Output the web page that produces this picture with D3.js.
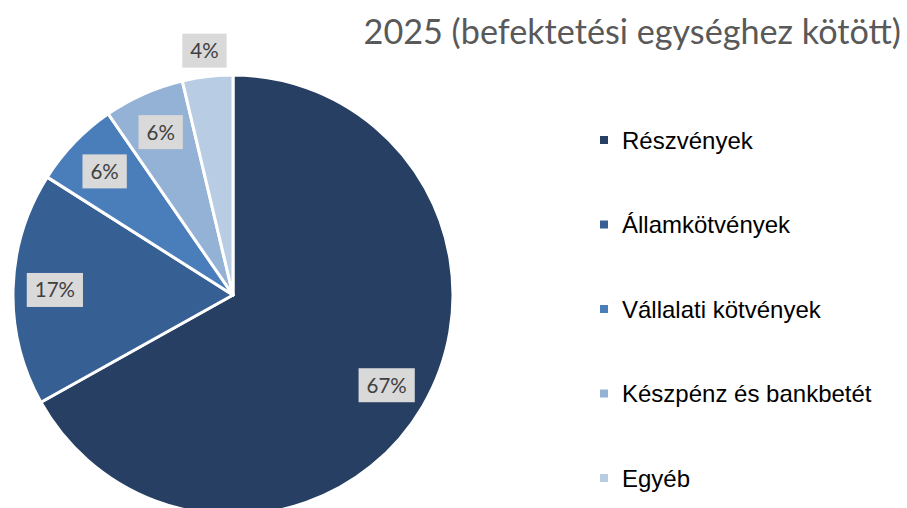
<!DOCTYPE html>
<html>
<head>
<meta charset="utf-8">
<script src="https://cdn.jsdelivr.net/npm/d3@7"></script>
<style>
  body { margin: 0; background: #fff; }
  svg { display: block; }
</style>
</head>
<body>
<div id="chart"></div>
<script>
// chart data
var title = "2025 (befektetési egységhez kötött)";
var categories = ["Részvények", "Államkötvények", "Vállalati kötvények", "Készpénz és bankbetét", "Egyéb"];
var values = [66.9, 17.1, 6.4, 5.9, 3.7];
var labels = ["67%", "17%", "6%", "6%", "4%"];
var colors = ["#263f62", "#365f93", "#4a7ebb", "#94b1d6", "#b8cce4"];

var svgWidth = 907;
var svgHeight = 508;

var svg = d3.select("#chart")
  .append("svg")
  .attr("width", svgWidth)
  .attr("height", svgHeight);

var cx = 233, cy = 295, radius = 220;

var data = categories.map(function(c, i) {
  return { name: c, value: values[i], label: labels[i], color: colors[i] };
});

var pie = d3.pie()
  .sort(null)
  .value(d => d.value);

var arc = d3.arc()
  .innerRadius(0)
  .outerRadius(radius);

var labelArc = d3.arc()
  .innerRadius(radius * 0.81)
  .outerRadius(radius * 0.81);

var outerLabelArc = d3.arc()
  .innerRadius(radius + 26)
  .outerRadius(radius + 26);

var pieGroup = svg.append("g")
  .attr("transform", `translate(${cx}, ${cy})`);

var arcs = pie(data);

pieGroup.selectAll("path")
  .data(arcs)
  .enter()
  .append("path")
  .attr("d", arc)
  .attr("fill", d => d.data.color)
  .attr("stroke", "#fff")
  .attr("stroke-width", 3)
  .attr("stroke-linejoin", "round");

// data labels; small slices get pushed outside like excel's best fit
var labelGroups = pieGroup.selectAll(".dlabel")
  .data(arcs)
  .enter()
  .append("g")
  .attr("class", "dlabel")
  .attr("transform", function(d) {
    var small = (d.endAngle - d.startAngle) < 0.3;
    var p = small ? outerLabelArc.centroid(d) : labelArc.centroid(d);
    return `translate(${p[0]}, ${p[1]})`;
  });

labelGroups.append("rect")
  .attr("fill", "#d9d9d9");

labelGroups.append("text")
  .attr("text-anchor", "middle")
  .attr("dy", "0.36em")
  .attr("font-family", "Lato, 'Open Sans', sans-serif")
  .attr("font-size", 20.5)
  .attr("fill", "#404040")
  .text(d => d.data.label);

labelGroups.each(function() {
  var g = d3.select(this);
  var w = g.select("text").node().getComputedTextLength();
  g.select("rect")
    .attr("x", -w / 2 - 8)
    .attr("y", -17)
    .attr("width", w + 16)
    .attr("height", 34);
});

// title
svg.append("text")
  .attr("x", 901)
  .attr("y", 44)
  .attr("text-anchor", "end")
  .attr("font-family", "Lato, 'Open Sans', sans-serif")
  .attr("font-size", 34.2)
  .attr("fill", "#595959")
  .text(title);

// legend
var legendY = d3.scalePoint()
  .domain(categories)
  .range([140, 478]);

var legend = svg.selectAll(".legend")
  .data(data)
  .enter()
  .append("g")
  .attr("class", "legend")
  .attr("transform", d => `translate(600, ${legendY(d.name)})`);

legend.append("rect")
  .attr("x", 0)
  .attr("y", -4)
  .attr("width", 8)
  .attr("height", 8)
  .attr("fill", d => d.color);

legend.append("text")
  .attr("x", 22)
  .attr("dy", "0.36em")
  .attr("font-family", "'Liberation Sans', Arial, sans-serif")
  .attr("font-size", 24)
  .attr("fill", "#000")
  .text(d => d.name);
</script>
</body>
</html>
